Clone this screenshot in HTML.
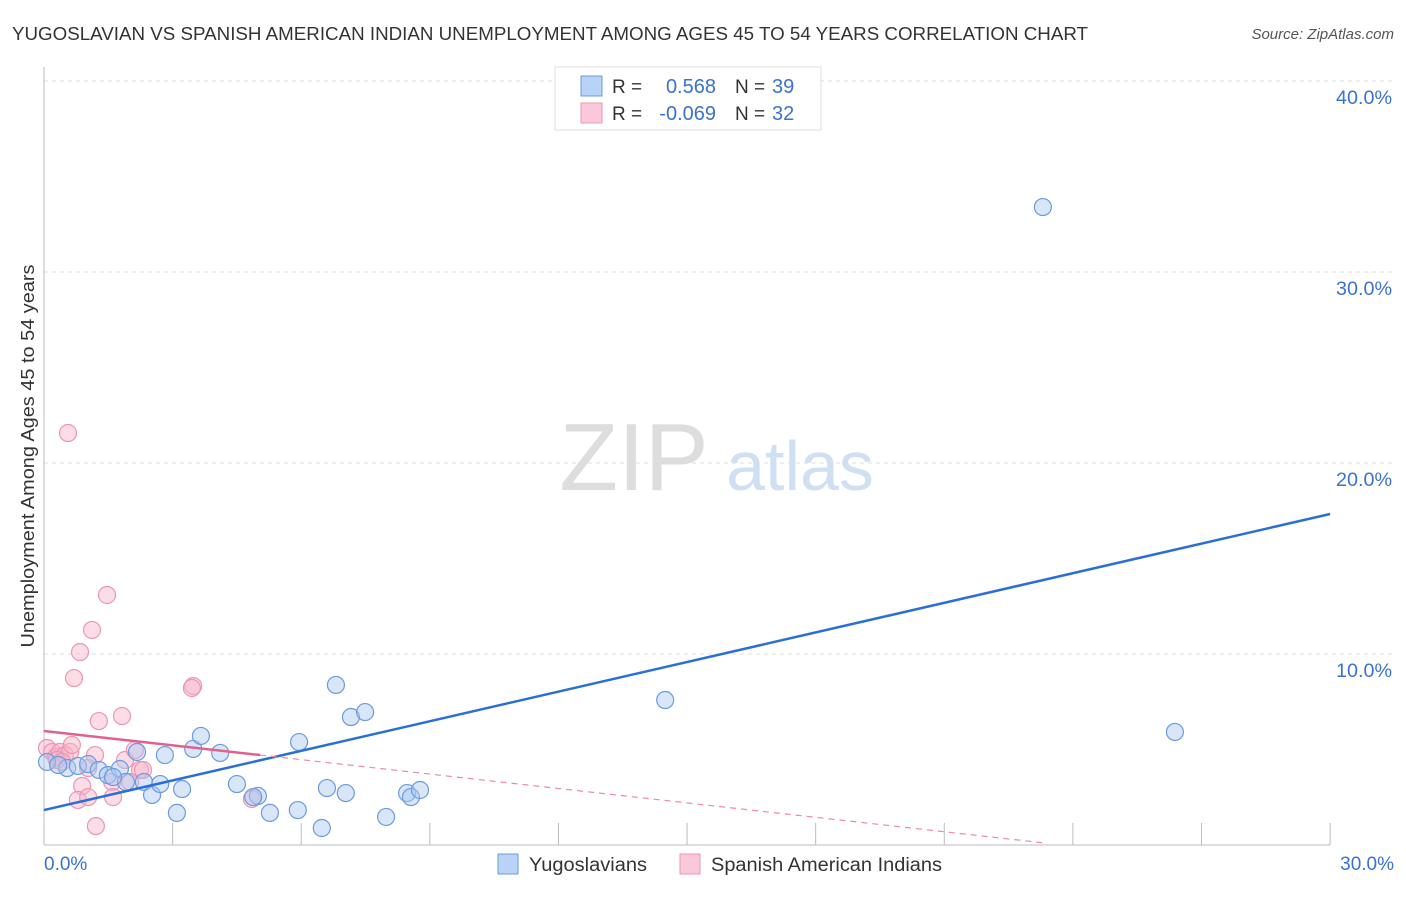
<!DOCTYPE html>
<html><head><meta charset="utf-8"><style>
body{margin:0;background:#fff;font-family:"Liberation Sans",sans-serif;}
svg text{font-family:"Liberation Sans",sans-serif;}
</style></head><body>
<svg id="chart" width="1406" height="892">
<text x="12" y="40" font-size="18" fill="#333" textLength="1076" lengthAdjust="spacingAndGlyphs">YUGOSLAVIAN VS SPANISH AMERICAN INDIAN UNEMPLOYMENT AMONG AGES 45 TO 54 YEARS CORRELATION CHART</text>
<text x="1394" y="39" font-size="15" fill="#555" font-style="italic" text-anchor="end">Source: ZipAtlas.com</text>
<text x="634" y="490" font-size="96" fill="#ddd" font-family="Liberation Serif" text-anchor="middle">ZIP</text>
<text x="800" y="490" font-size="70" fill="#cfe0f5" text-anchor="middle">atlas</text>
<text transform="translate(34,456) rotate(-90)" font-size="18" fill="#333" text-anchor="middle" textLength="383" lengthAdjust="spacingAndGlyphs">Unemployment Among Ages 45 to 54 years</text>
<g id="grid"></g><g id="marks"></g>
<g>
<rect x="555" y="67" width="266" height="63" fill="#fff" stroke="#ddd"/>
<rect x="581" y="76" width="21" height="20" fill="#b8d3f5" stroke="#6a9be0"/>
<rect x="581" y="103" width="21" height="20" fill="#fac8d8" stroke="#ec96b4"/>
<text x="612" y="93" font-size="19" fill="#333">R =</text>
<text x="716" y="93" font-size="20" fill="#3a72d0" text-anchor="end">0.568</text>
<text x="735" y="93" font-size="19" fill="#333">N =</text>
<text x="772" y="93" font-size="20" fill="#3a72d0">39</text>
<text x="612" y="120" font-size="19" fill="#333">R =</text>
<text x="716" y="120" font-size="20" fill="#3a72d0" text-anchor="end">-0.069</text>
<text x="735" y="120" font-size="19" fill="#333">N =</text>
<text x="772" y="120" font-size="20" fill="#3a72d0">32</text>
</g>
<g>
<rect x="498" y="854" width="20" height="20" fill="#b8d3f5" stroke="#6a9be0"/>
<text x="529" y="871" font-size="19" fill="#333" textLength="118" lengthAdjust="spacingAndGlyphs">Yugoslavians</text>
<rect x="680" y="854" width="20" height="20" fill="#fac8d8" stroke="#ec96b4"/>
<text x="711" y="871" font-size="19" fill="#333" textLength="231" lengthAdjust="spacingAndGlyphs">Spanish American Indians</text>
</g>
</svg>
<script>
const xTicks=[0,30];
const yTicks=[10,20,30,40];
const blueX=[0.07,0.54,0.79,1.03,1.28,1.49,1.77,1.91,2.17,2.33,2.52,2.71,2.82,3.10,3.22,3.48,3.66,4.11,4.50,4.99,5.27,5.95,5.92,6.48,6.60,6.81,7.04,7.16,7.49,7.98,8.47,8.56,8.77,14.49,23.30,26.38,4.88,1.61,0.33];
const blueY=[4.35,4.03,4.14,4.24,3.93,3.66,3.98,3.30,4.87,3.30,2.62,3.19,4.71,1.68,2.93,5.03,5.71,4.82,3.19,2.57,1.68,5.39,1.83,0.89,2.98,8.38,2.72,6.70,6.96,1.47,2.72,2.51,2.88,7.59,33.40,5.92,2.51,3.56,4.19];
const pinkX=[0.56,1.47,1.12,0.84,0.70,3.48,3.45,1.28,1.82,0.07,0.19,0.28,0.37,0.49,0.61,0.65,1.03,1.19,1.89,2.12,2.24,2.31,1.59,0.89,0.79,1.03,1.61,4.85,1.21,2.01,0.30,0.42];
const pinkY=[21.57,13.09,11.26,10.10,8.74,8.32,8.22,6.49,6.75,5.08,4.87,4.61,4.87,4.71,4.87,5.24,4.03,4.71,4.45,4.97,3.93,3.93,3.30,3.09,2.36,2.51,2.51,2.41,0.99,3.30,4.45,4.35];
const blueTrend=[1.83,17.33];
const pinkTrend=[5.97,4.71,0.10];
const pinkTrendX=[0,5.04,23.36];
const X=v=>44+v*42.87, Y=v=>845-v*19.1;
const NS="http://www.w3.org/2000/svg";
function mk(t,a,p){const e=document.createElementNS(NS,t);for(const k in a)e.setAttribute(k,a[k]);p.appendChild(e);return e;}
const g=document.getElementById('grid'),m=document.getElementById('marks');
yTicks.forEach(t=>{
const l=mk('line',{x1:44,x2:1394,y1:Y(t),y2:Y(t),stroke:'#ddd','stroke-dasharray':'4,4'},g);


const tx=mk('text',{x:1392,y:Y(t)+23,'font-size':19,fill:'#3a72d0','text-anchor':'end',textLength:56,lengthAdjust:'spacingAndGlyphs'},g);tx.textContent=t.toFixed(1)+'%';


});
mk('line',{x1:44,x2:44,y1:67,y2:845,stroke:'#bbb'},g);
mk('line',{x1:44,x2:1330,y1:845,y2:845,stroke:'#bbb'},g);
for(let i=1;i<=10;i++){mk('line',{x1:X(i*3),x2:X(i*3),y1:823,y2:845,stroke:'#bbb'},g);}
xTicks.forEach((t,i)=>{const tx=mk('text',{x:i?1394:44,y:870,'font-size':19,fill:'#3a72d0','text-anchor':i?'end':'start'},g);tx.textContent=t.toFixed(1)+'%';

});
pinkX.forEach((v,i)=>{const c=mk('circle',{cx:X(v),cy:Y(pinkY[i]),r:8.5,fill:'rgba(248,180,200,0.45)',stroke:'#ec96b4','stroke-width':1.2},m);

});
blueX.forEach((v,i)=>{const c=mk('circle',{cx:X(v),cy:Y(blueY[i]),r:8.5,fill:'rgba(170,200,240,0.45)',stroke:'#6a9be0','stroke-width':1.2},m);

});
const bl=mk('line',{x1:X(0),y1:Y(blueTrend[0]),x2:X(30),y2:Y(blueTrend[1]),stroke:'#2a6fd6','stroke-width':2.5},m);


const pl=mk('line',{x1:X(pinkTrendX[0]),y1:Y(pinkTrend[0]),x2:X(pinkTrendX[1]),y2:Y(pinkTrend[1]),stroke:'#e2608c','stroke-width':2.5},m);


const pd=mk('line',{x1:X(pinkTrendX[1]),y1:Y(pinkTrend[1]),x2:X(pinkTrendX[2]),y2:Y(pinkTrend[2]),stroke:'#e88aaa','stroke-width':1.2,'stroke-dasharray':'6,5'},m);


</script>
</body></html>
